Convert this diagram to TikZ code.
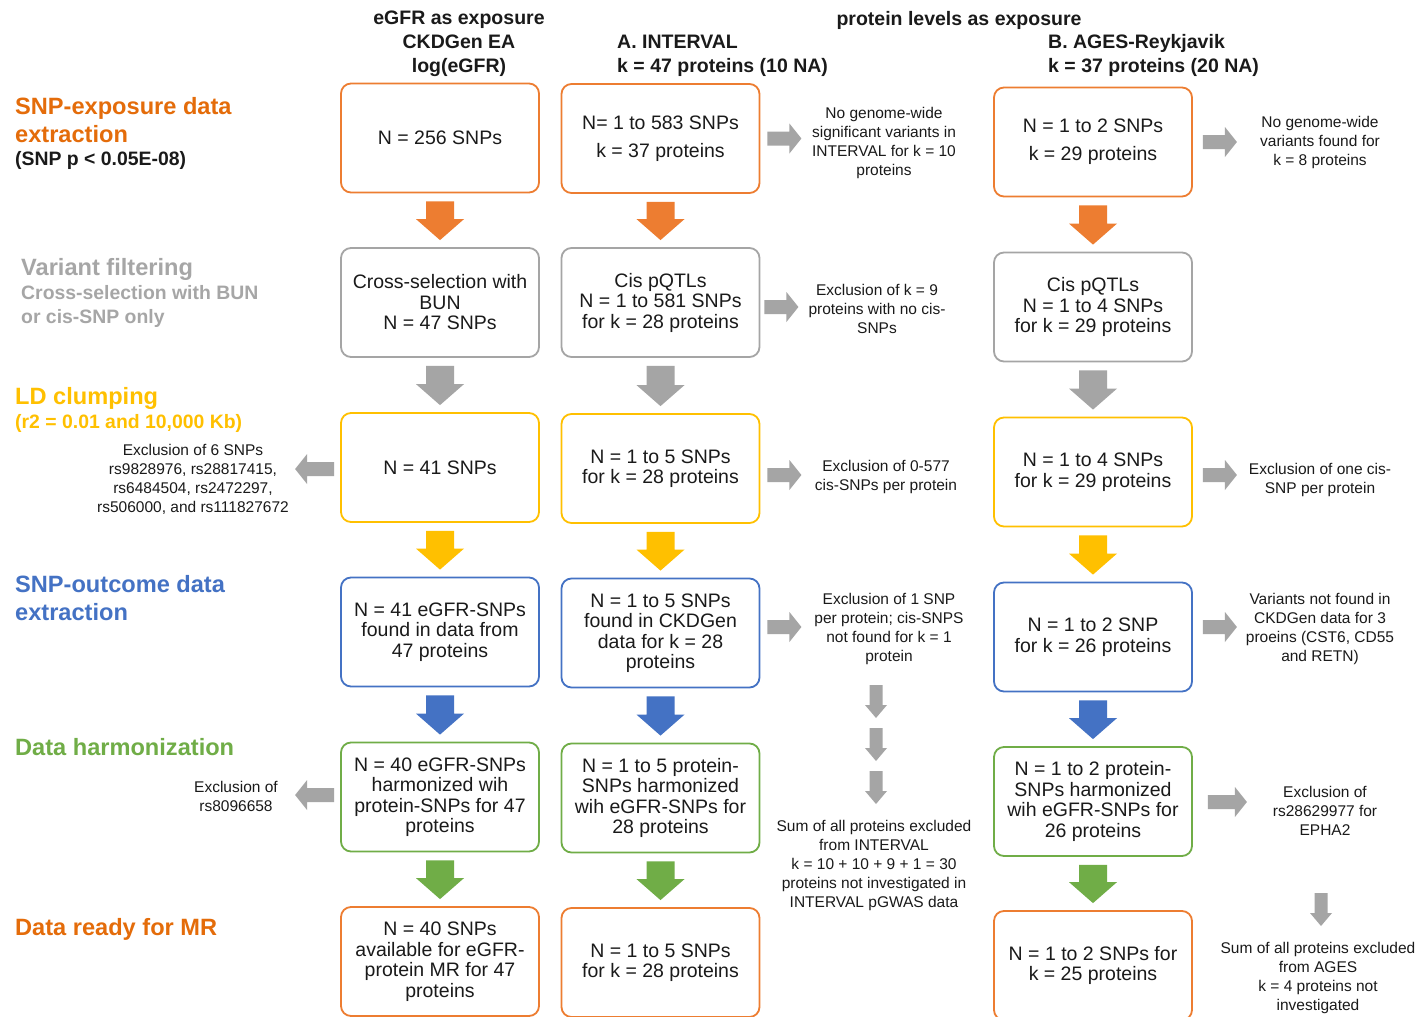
\documentclass[tikz,border=0pt]{standalone}
\usepackage{fontspec}
\setmainfont{Liberation Sans}
\usetikzlibrary{calc}
\definecolor{cor}{HTML}{ED7D31}
\definecolor{cgr}{HTML}{A5A5A5}
\definecolor{cye}{HTML}{FFC000}
\definecolor{cbl}{HTML}{4472C4}
\definecolor{cgn}{HTML}{70AD47}
\definecolor{lor}{HTML}{E46C0A}
\definecolor{lgr}{HTML}{A6A6A6}
\definecolor{txt}{HTML}{1A1A1A}
\tikzset{
 box/.style={draw=#1, line width=1.8pt, rounded corners=10pt, minimum width=198pt, minimum height=109pt, align=center, fill=white, text=txt, font=\fontsize{19.5}{20.5}\selectfont, inner sep=2pt},
 note/.style={align=center, text=txt, font=\fontsize{15.5}{19}\selectfont, inner sep=0pt},
 head/.style={font=\bfseries\fontsize{19.5}{24}\selectfont, text=txt, inner sep=0pt},
 ttl/.style={font=\bfseries\fontsize{23.6}{28}\selectfont, inner sep=0pt, anchor=west, align=left},
 sub/.style={font=\bfseries\fontsize{19.4}{24}\selectfont, inner sep=0pt, anchor=west, align=left},
}
% vertical block arrow from box #2 to box #3
\newcommand{\vblk}[3]{\fill[#1] ($(#2.south)+(-14,8)$) -- ($(#2.south)+(14,8)$) -- ($(#3.north)+(14,-28)$) -- ($(#3.north)+(24,-28)$) -- ($(#3.north)+(0,-7)$) -- ($(#3.north)+(-24,-28)$) -- ($(#3.north)+(-14,-28)$) -- cycle;}
% right grey arrow from node #1: gap #2, dy #3, body length #4
\newcommand{\rgr}[4]{\fill[cgr] ($(#1.east)+(#2,#3)$) ++(0,-7) -- ++(#4,0) -- ++(0,-8) -- ++(12,15) -- ++(-12,15) -- ++(0,-8) -- ++(-#4,0) -- cycle;}
% left grey arrow from node #1
\newcommand{\lgr}[3]{\fill[cgr] ($(#1.west)+(-#2,#3)$) ++(0,-7) -- ++(-27,0) -- ++(0,-8) -- ++(-12,15) -- ++(12,15) -- ++(0,-8) -- ++(27,0) -- cycle;}
% small grey down arrow
\newcommand{\sgr}[1]{\fill[cgr] (#1) ++(-6.5,0) -- ++(13,0) -- ++(0,20) -- ++(4.5,0) -- ++(-11,13) -- ++(-11,-13) -- ++(4.5,0) -- cycle;}
\begin{document}
\begin{tikzpicture}[x=1pt,y=-1pt]
\useasboundingbox (0,0) rectangle (1424,1017);
\clip (0,0) rectangle (1424,1017);
\fill[white] (0,0) rectangle (1424,1017);

% headers
\node[head, align=center] (h1) at (459,43.5) {eGFR as exposure\\CKDGen EA\\log(eGFR)};
\node[head] (h2) at (959,20) {protein levels as exposure};
\node[head, anchor=west, align=left] (h3) at (617,55.5) {A. INTERVAL\\k = 47 proteins (10 NA)};
\node[head, anchor=west, align=left] (h4) at (1048,55.5) {B. AGES-Reykjavik\\k = 37 proteins (20 NA)};

% left labels
\node[ttl, text=lor] (l1) at (15,120) {SNP-exposure data\\extraction};
\node[sub, text=txt] (l1s) at (15,160) {(SNP p < 0.05E-08)};
\node[ttl, text=lgr] (l2) at (21,269) {Variant filtering};
\node[sub, text=lgr] (l2s) at (21,306) {Cross-selection with BUN\\or cis-SNP only};
\node[ttl, text=cye] (l3) at (15,398) {LD clumping};
\node[sub, text=cye] (l3s) at (15,423) {(r2 = 0.01 and 10,000 Kb)};
\node[ttl, text=cbl] (l4) at (15,598) {SNP-outcome data\\extraction};
\node[ttl, text=cgn] (l5) at (15,747) {Data harmonization};
\node[ttl, text=lor] (l6) at (15,929) {Data ready for MR};

% boxes
\node[box=cor] (e1) at (440,138) {N = 256 SNPs};
\node[box=cor] (a1) at (660.5,138.5) {N= 1 to 583 SNPs\\[7.5pt]k = 37 proteins};
\node[box=cor] (b1) at (1093,142) {N = 1 to 2 SNPs\\[7.5pt]k = 29 proteins};
\node[box=cgr] (e2) at (440,302.5) {Cross-selection with\\BUN\\N = 47 SNPs};
\node[box=cgr] (a2) at (660.5,302.5) {Cis pQTLs\\N = 1 to 581 SNPs\\for k = 28 proteins};
\node[box=cgr] (b2) at (1093,307) {Cis pQTLs\\N = 1 to 4 SNPs\\for k = 29 proteins};
\node[box=cye] (e3) at (440,467.5) {N = 41 SNPs};
\node[box=cye] (a3) at (660.5,468.5) {N = 1 to 5 SNPs\\for k = 28 proteins};
\node[box=cye] (b3) at (1093,472) {N = 1 to 4 SNPs\\for k = 29 proteins};
\node[box=cbl] (e4) at (440,632) {N = 41 eGFR-SNPs\\found in data from\\47 proteins};
\node[box=cbl] (a4) at (660.5,633) {N = 1 to 5 SNPs\\found in CKDGen\\data for k = 28\\proteins};
\node[box=cbl] (b4) at (1093,637) {N = 1 to 2 SNP\\for k = 26 proteins};
\node[box=cgn] (e5) at (440,797) {N = 40 eGFR-SNPs\\harmonized wih\\protein-SNPs for 47\\proteins};
\node[box=cgn] (a5) at (660.5,798) {N = 1 to 5 protein-\\SNPs harmonized\\wih eGFR-SNPs for\\28 proteins};
\node[box=cgn] (b5) at (1093,801.5) {N = 1 to 2 protein-\\SNPs harmonized\\wih eGFR-SNPs for\\26 proteins};
\node[box=cor] (e6) at (440,961.5) {N = 40 SNPs\\available for eGFR-\\protein MR for 47\\proteins};
\node[box=cor] (a6) at (660.5,962.5) {N = 1 to 5 SNPs\\for k = 28 proteins};
\node[box=cor] (b6) at (1093,965.5) {N = 1 to 2 SNPs for\\k = 25 proteins};

% notes
\node[note] (nl3) at (193,479.5) {Exclusion of 6 SNPs\\rs9828976, rs28817415,\\rs6484504, rs2472297,\\rs506000, and rs111827672};
\node[note] (nl5) at (236,796) {Exclusion of\\rs8096658};
\node[note] (na1) at (884,142.5) {No genome-wide\\significant variants in\\INTERVAL for k = 10\\proteins};
\node[note] (na2) at (877,309) {Exclusion of k = 9\\proteins with no cis-\\SNPs};
\node[note] (na3) at (886,476.5) {Exclusion of 0-577\\cis-SNPs per protein};
\node[note] (na4) at (889,628.5) {Exclusion of 1 SNP\\per protein; cis-SNPS\\not found for k = 1\\protein};
\node[note] (na5) at (874,865.5) {Sum of all proteins excluded\\from INTERVAL\\k = 10 + 10 + 9 + 1 = 30\\proteins not investigated in\\INTERVAL pGWAS data};
\node[note] (nb1) at (1320,142) {No genome-wide\\variants found for\\k = 8 proteins};
\node[note] (nb3) at (1320,479.5) {Exclusion of one cis-\\SNP per protein};
\node[note] (nb4) at (1320,628.5) {Variants not found in\\CKDGen data for 3\\proeins (CST6, CD55\\and RETN)};
\node[note] (nb5) at (1325,811) {Exclusion of\\rs28629977 for\\EPHA2};
\node[note] (nb6) at (1318,977.5) {Sum of all proteins excluded\\from AGES\\k = 4 proteins not\\investigated};

% vertical block arrows
\vblk{cor}{e1}{e2} \vblk{cor}{a1}{a2} \vblk{cor}{b1}{b2}
\vblk{cgr}{e2}{e3} \vblk{cgr}{a2}{a3} \vblk{cgr}{b2}{b3}
\vblk{cye}{e3}{e4} \vblk{cye}{a3}{a4} \vblk{cye}{b3}{b4}
\vblk{cbl}{e4}{e5} \vblk{cbl}{a4}{a5} \vblk{cbl}{b4}{b5}
\vblk{cgn}{e5}{e6} \vblk{cgn}{a5}{a6} \vblk{cgn}{b5}{b6}

% side arrows
\rgr{a1}{7}{0}{22}
\rgr{b1}{10}{0}{22}
\rgr{a2}{4}{4.5}{22}
\rgr{a3}{7}{6.5}{22}
\rgr{b3}{10}{3}{22}
\rgr{a4}{7}{-6}{22}
\rgr{b4}{10}{-10}{22}
\rgr{b5}{15}{0.5}{27}
\lgr{e3}{6}{1.5}
\lgr{e5}{6}{-2}

% small down arrows
\coordinate (s1) at (876,685);
\coordinate (s2) at (876,728);
\coordinate (s3) at (876,771);
\coordinate (s4) at (1321,893);
\sgr{s1} \sgr{s2} \sgr{s3} \sgr{s4}
\end{tikzpicture}
\end{document}
